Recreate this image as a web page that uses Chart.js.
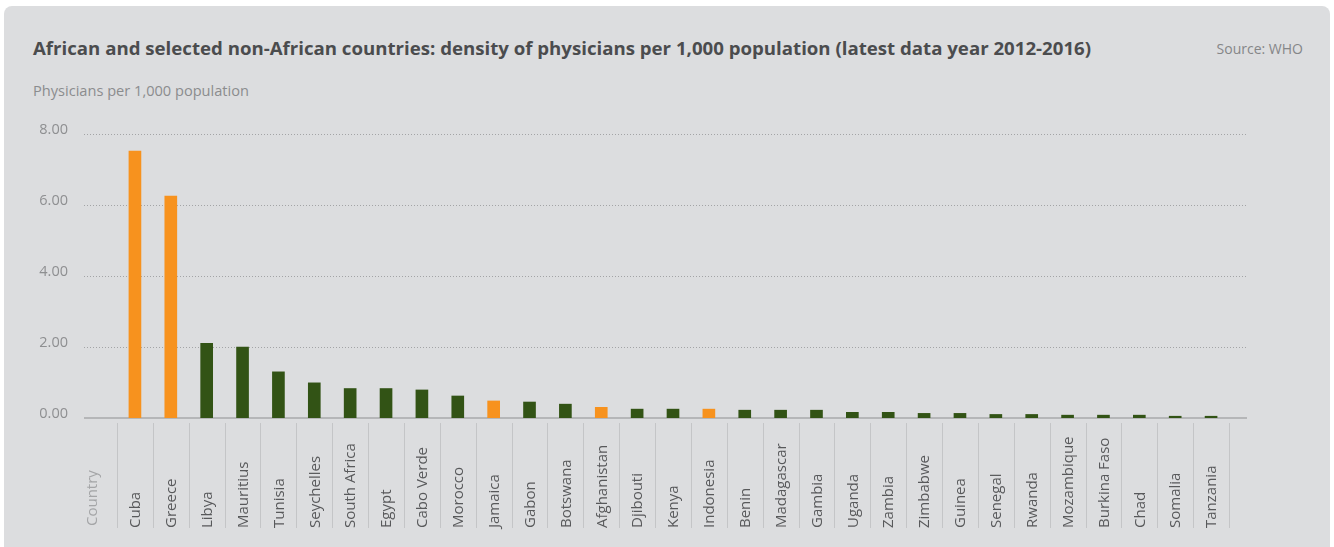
<!DOCTYPE html>
<html>
<head>
<meta charset="utf-8">
<script src="https://cdn.jsdelivr.net/npm/chart.js@4.4.1/dist/chart.umd.min.js"></script>
<style>
  html, body { margin: 0; padding: 0; background: #ffffff; }
  body { width: 1334px; height: 547px; position: relative; overflow: hidden; font-family: "Open Sans", sans-serif; }
  #card { position: absolute; left: 4px; top: 6px; width: 1326px; height: 560px; background: #dcdddf; border-radius: 8px; }
  #title { position: absolute; left: 33px; top: 36px; line-height: 24px; font-size: 18.65px; font-weight: 700; color: #4b4c4e; white-space: nowrap; }
  #source { position: absolute; right: 31px; top: 39px; line-height: 20px; font-size: 14px; color: #858688; white-space: nowrap; }
  #subtitle { position: absolute; left: 33px; top: 80px; line-height: 20px; font-size: 14.6px; color: #8b8c8e; white-space: nowrap; }
  #wrap { position: absolute; left: 0; top: 0; width: 1334px; height: 547px; }
</style>
</head>
<body>
<div id="card"></div>
<div id="title">African and selected non-African countries: density of physicians per 1,000 population (latest data year 2012-2016)</div>
<div id="source">Source: WHO</div>
<div id="subtitle">Physicians per 1,000 population</div>
<div id="wrap"><canvas id="c" width="1334" height="547"></canvas></div>
<script>
const countries = ["Cuba","Greece","Libya","Mauritius","Tunisia","Seychelles","South Africa","Egypt","Cabo Verde","Morocco","Jamaica","Gabon","Botswana","Afghanistan","Djibouti","Kenya","Indonesia","Benin","Madagascar","Gambia","Uganda","Zambia","Zimbabwe","Guinea","Senegal","Rwanda","Mozambique","Burkina Faso","Chad","Somalia","Tanzania"];
const physicians = [7.52,6.25,2.10,2.00,1.30,0.99,0.83,0.83,0.79,0.62,0.48,0.45,0.39,0.30,0.25,0.25,0.25,0.22,0.22,0.22,0.16,0.16,0.13,0.13,0.10,0.10,0.08,0.08,0.08,0.05,0.05];
const nonAfrican = ["Cuba","Greece","Jamaica","Afghanistan","Indonesia"];
const yTicks = [0, 2, 4, 6, 8];
const axisTitle = "Country";

const ORANGE = "#f7921e", GREEN = "#325315";
const FONT = '"Open Sans", sans-serif';

const decor = {
  id: "decor",
  beforeDatasetsDraw(chart) {
    const { ctx, scales: { y }, chartArea } = chart;
    const x0 = chartArea.left - 33, x1 = chartArea.right + 18;
    ctx.save();
    ctx.strokeStyle = "#a3a4a6";
    ctx.lineWidth = 1;
    ctx.setLineDash([1, 2]);
    yTicks.forEach(v => {
      if (v === 0) return;
      const py = Math.round(y.getPixelForValue(v)) + 0.5;
      ctx.beginPath(); ctx.moveTo(x0, py); ctx.lineTo(x1, py); ctx.stroke();
    });
    ctx.setLineDash([]);
    ctx.strokeStyle = "#b5b6b8";
    ctx.lineWidth = 2;
    const pz = Math.round(y.getPixelForValue(0));
    ctx.beginPath(); ctx.moveTo(x0, pz); ctx.lineTo(x1, pz); ctx.stroke();
    ctx.restore();
  },
  afterDraw(chart) {
    const { ctx, scales: { x, y } } = chart;
    const zero = y.getPixelForValue(0);
    const top = zero + 5, bottom = zero + 110;
    const half = (x.getPixelForValue(1) - x.getPixelForValue(0)) / 2;
    ctx.save();
    ctx.strokeStyle = "#c4c5c7";
    ctx.lineWidth = 1;
    for (let i = 0; i <= countries.length; i++) {
      const px = Math.round(x.getPixelForValue(0) - half + i * 2 * half) + 0.5;
      ctx.beginPath(); ctx.moveTo(px, top); ctx.lineTo(px, bottom); ctx.stroke();
    }
    ctx.font = "15px " + FONT;
    ctx.textAlign = "left";
    ctx.textBaseline = "middle";
    const labelBase = zero + 110;
    countries.forEach((name, i) => {
      const px = x.getPixelForValue(i) + 1;
      ctx.save();
      ctx.translate(px, labelBase);
      ctx.rotate(-Math.PI / 2);
      ctx.fillStyle = "#58595b";
      ctx.fillText(name, 0, 0);
      ctx.restore();
    });
    ctx.save();
    ctx.translate(x.getPixelForValue(0) - half - 24, labelBase - 2);
    ctx.rotate(-Math.PI / 2);
    ctx.fillStyle = "#a4a5a7";
    ctx.fillText(axisTitle, 0, 0);
    ctx.restore();
    ctx.restore();
  }
};

new Chart(document.getElementById("c"), {
  type: "bar",
  data: {
    labels: countries,
    datasets: [{
      data: physicians,
      backgroundColor: countries.map(c => nonAfrican.includes(c) ? ORANGE : GREEN),
      barThickness: 12,
      borderWidth: 0
    }]
  },
  options: {
    responsive: false,
    animation: false,
    devicePixelRatio: 1,
    layout: { padding: { left: 0, right: 105, top: 134, bottom: 129 } },
    plugins: { legend: { display: false }, tooltip: { enabled: false }, title: { display: false } },
    scales: {
      x: {
        type: "category",
        offset: true,
        grid: { display: false },
        border: { display: false },
        ticks: { display: false },
        afterFit: s => { s.height = 0; }
      },
      y: {
        min: 0, max: 8,
        grid: { display: false },
        border: { display: false },
        afterFit: s => { s.width = 117; },
        afterBuildTicks: s => { s.ticks = yTicks.map(v => ({ value: v })); },
        ticks: {
          padding: 41,
          labelOffset: -4,
          color: "#8e8f91",
          font: { family: FONT, size: 14.5 },
          callback: v => Number(v).toFixed(2)
        }
      }
    }
  },
  plugins: [decor]
});
</script>
</body>
</html>
